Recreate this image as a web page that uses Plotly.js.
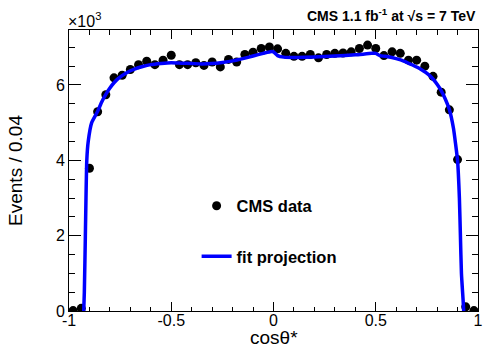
<!DOCTYPE html>
<html>
<head>
<meta charset="utf-8">
<script src="https://cdn.plot.ly/plotly-3.0.1.min.js"></script>
<style>html,body{margin:0;padding:0;background:#fff;}#chart{width:498px;height:358px;}</style>
</head>
<body>
<div id="chart"></div>
<script>
// Data points: bin centres of cos(theta*) (bin width 0.04) and events per bin
var binCenters = [-0.98,-0.94,-0.90,-0.86,-0.82,-0.78,-0.74,-0.70,-0.66,-0.62,
                  -0.58,-0.54,-0.50,-0.46,-0.42,-0.38,-0.34,-0.30,-0.26,-0.22,
                  -0.18,-0.14,-0.10,-0.06,-0.02,0.02,0.06,0.10,0.14,0.18,
                  0.22,0.26,0.30,0.34,0.38,0.42,0.46,0.50,0.54,0.58,
                  0.62,0.66,0.70,0.74,0.78,0.82,0.86,0.90,0.94,0.98];
var dataEvents = [10,70,3790,5290,5740,6190,6260,6410,6540,6630,
                  6540,6660,6790,6540,6540,6590,6520,6610,6480,6680,
                  6610,6810,6870,6970,7010,6960,6840,6760,6760,6810,
                  6720,6810,6840,6850,6880,6970,7060,6970,6780,6880,
                  6840,6660,6660,6500,6230,5810,5340,4020,110,10];

// Fit projection curve
var fitX = [-0.928,-0.925,-0.92,-0.913,-0.906,-0.889,-0.86,-0.84,-0.82,-0.80,
            -0.78,-0.76,-0.72,-0.68,-0.64,-0.60,-0.55,-0.50,-0.45,-0.40,
            -0.35,-0.30,-0.25,-0.20,-0.15,-0.10,-0.05,-0.01,0.0,0.02,
            0.05,0.10,0.20,0.30,0.40,0.48,0.50,0.52,0.56,0.60,
            0.64,0.68,0.72,0.76,0.78,0.80,0.82,0.84,0.86,0.88,
            0.89,0.90,0.909,0.914,0.919,0.927,0.93];
var fitY = [0,500,2000,4000,4500,5000,5300,5550,5750,5920,
            6060,6170,6320,6420,6490,6540,6570,6590,6580,6570,
            6560,6570,6600,6640,6700,6770,6840,6890,6880,6780,
            6740,6730,6740,6770,6800,6840,6840,6780,6750,6700,
            6630,6530,6420,6270,6160,6020,5850,5630,5350,4850,
            4450,4000,3000,2000,1000,300,0];

var xTickVals = [-1,-0.5,0,0.5,1];
var xTickText = ['-1','-0.5','0','0.5','1'];
var yTickVals = [0,2000,4000,6000];
var yTickText = ['0','2','4','6'];

var fitTrace = {
  x: fitX, y: fitY, type: 'scatter', mode: 'lines',
  name: 'fit projection', legendgroup: 'b',
  line: {color: '#0000ff', width: 3.5, shape: 'spline', smoothing: 0.5}
};
var dataTrace = {
  x: binCenters, y: dataEvents, type: 'scatter', mode: 'markers',
  name: 'CMS data', legendgroup: 'a',
  marker: {color: '#000000', size: 9, symbol: 'circle'}
};

var font = 'Liberation Sans, Arial, Helvetica, sans-serif';
var layout = {
  width: 498, height: 358,
  margin: {l: 69, r: 20, t: 30, b: 47, pad: 0},
  paper_bgcolor: '#ffffff', plot_bgcolor: '#ffffff',
  font: {family: font, color: '#000000', size: 16},
  showlegend: true,
  legend: {
    x: 0.312, y: 0.436, xanchor: 'left', yanchor: 'top',
    traceorder: 'grouped', tracegroupgap: 26,
    bgcolor: 'rgba(0,0,0,0)', borderwidth: 0,
    font: {family: font, size: 16.5, color: '#000000', weight: 'bold'}
  },
  xaxis: {
    range: [-1, 1], showgrid: false, zeroline: false,
    showline: true, linecolor: '#000000', linewidth: 1, mirror: 'allticks',
    ticks: 'inside', ticklen: 9, tickcolor: '#000000', tickwidth: 1,
    tickmode: 'array', tickvals: xTickVals, ticktext: xTickText,
    tickfont: {family: font, size: 16}, ticklabelstandoff: -5,
    minor: {ticks: 'inside', ticklen: 4.5, tickmode: 'linear', tick0: -1, dtick: 0.1, tickcolor: '#000000', showgrid: false},
    title: {text: ''}
  },
  yaxis: {
    range: [0, 7460], showgrid: false, zeroline: false,
    showline: true, linecolor: '#000000', linewidth: 1, mirror: 'allticks',
    ticks: 'inside', ticklen: 12, tickcolor: '#000000', tickwidth: 1,
    tickmode: 'array', tickvals: yTickVals, ticktext: yTickText,
    tickfont: {family: font, size: 16},
    minor: {ticks: 'inside', ticklen: 6, tickmode: 'linear', tick0: 0, dtick: 500, tickcolor: '#000000', showgrid: false},
    title: {text: 'Events / 0.04', font: {family: font, size: 19}, standoff: 28}
  },
  annotations: [
    {xref: 'paper', yref: 'paper', x: 0.5, y: 0, xanchor: 'center', yanchor: 'top',
     text: 'cos\u03b8*', showarrow: false, font: {family: font, size: 19}, yshift: -14},
    {xref: 'paper', yref: 'paper', x: 0, y: 1, xanchor: 'left', yanchor: 'bottom',
     text: '\u00d710<sup>3</sup>', showarrow: false, font: {family: font, size: 16}, xshift: -3, yshift: -2},
    {xref: 'paper', yref: 'paper', x: 1, y: 1, xanchor: 'right', yanchor: 'bottom',
     text: '<b>CMS 1.1 fb<sup>-1</sup> at \u221as = 7 TeV</b>', showarrow: false,
     font: {family: font, size: 14}, yshift: 4}
  ]
};

Plotly.newPlot('chart', [dataTrace, fitTrace], layout, {displayModeBar: false, staticPlot: true});
</script>
</body>
</html>
